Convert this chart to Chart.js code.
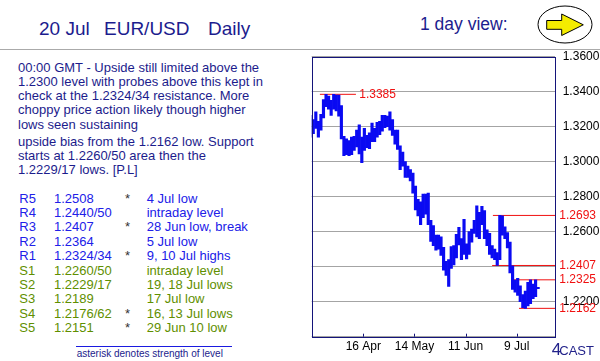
<!DOCTYPE html>
<html><head><meta charset="utf-8">
<script src="https://cdn.jsdelivr.net/npm/chart.js@4/dist/chart.umd.min.js"></script>
<style>
html,body{margin:0;padding:0;background:#fff;}
body{width:600px;height:361px;position:relative;overflow:hidden;font-family:"Liberation Sans",Arial,sans-serif;}
.t{position:absolute;white-space:pre;}
#c{position:absolute;left:300px;top:50px;}
</style></head><body>
<div class="t" style="left:39px;top:19px;font-size:19px;line-height:19px;color:#1c1c8e">20 Jul</div>
<div class="t" style="left:104px;top:19px;font-size:19px;line-height:19px;color:#1c1c8e">EUR/USD</div>
<div class="t" style="left:208px;top:19px;font-size:19px;line-height:19px;color:#1c1c8e">Daily</div>
<div class="t" style="left:420px;top:16.2px;font-size:17.5px;line-height:17.5px;color:#1c1c8e">1 day view:</div>
<svg style="position:absolute;left:530px;top:0" width="70" height="50">
  <ellipse cx="35" cy="24.5" rx="27" ry="18.5" fill="none" stroke="#000" stroke-width="1"/>
  <polygon points="16.7,20.5 31.7,20.5 31.7,14 53.3,24.8 31.7,35.5 31.7,29.3 16.7,29.3" fill="#f4ec00" stroke="#000" stroke-width="1"/>
</svg>
<div style="position:absolute;left:0;top:48.5px;width:600px;height:1px;background:#aaaaaa"></div>
<div class="t" style="left:18px;top:60.7px;font-size:13px;line-height:14.2px;color:#1c1c8c">00:00 GMT - Upside still limited above the
1.2300 level with probes above this kept in
check at the 1.2324/34 resistance. More
choppy price action likely though higher
lows seen sustaining</div>
<div class="t" style="left:18px;top:135.1px;font-size:13px;line-height:13.8px;color:#1c1c8c">upside bias from the 1.2162 low. Support
starts at 1.2260/50 area then the
1.2229/17 lows. [P.L]</div>
<div id="tbl"></div>
<div style="position:absolute;left:76px;top:346px;width:156px;height:1px;background:#1a1ae0"></div>
<div class="t" style="left:76.7px;top:348.8px;font-size:10px;line-height:10px;color:#1c1c8c">asterisk denotes strength of level</div>
<canvas id="c" width="300" height="311"></canvas>
<div class="t" style="left:551.7px;top:340.6px;font-size:17px;line-height:17px;color:#22228a">4</div>
<div class="t" style="left:559.3px;top:344px;font-size:13px;line-height:13px;color:#22228a">CAST</div>
<script>
// ---- key levels table ----
const levelNames = ['R5','R4','R3','R2','R1','S1','S2','S3','S4','S5'];
const levelValues = ['1.2508','1.2440/50','1.2407','1.2364','1.2324/34','1.2260/50','1.2229/17','1.2189','1.2176/62','1.2151'];
const levelStars = ['*','','*','','*','','','','*','*'];
const levelNotes = ['4 Jul low','intraday level','28 Jun low, break','5 Jul low','9, 10 Jul highs','intraday level','19, 18 Jul lows','17 Jul low','16, 13 Jul lows','29 Jun 10 low'];

// ---- price series (daily high/low) ----
const days = ['19 Mar','20 Mar','21 Mar','22 Mar','23 Mar','26 Mar','27 Mar','28 Mar','29 Mar','30 Mar',
 '2 Apr','3 Apr','4 Apr','5 Apr','6 Apr','9 Apr','10 Apr','11 Apr','12 Apr','13 Apr',
 '16 Apr','17 Apr','18 Apr','19 Apr','20 Apr','23 Apr','24 Apr','25 Apr','26 Apr','27 Apr',
 '30 Apr','1 May','2 May','3 May','4 May','7 May','8 May','9 May','10 May','11 May',
 '14 May','15 May','16 May','17 May','18 May','21 May','22 May','23 May','24 May','25 May',
 '28 May','29 May','30 May','31 May','1 Jun','4 Jun','5 Jun','6 Jun','7 Jun','8 Jun',
 '11 Jun','12 Jun','13 Jun','14 Jun','15 Jun','18 Jun','19 Jun','20 Jun','21 Jun','22 Jun',
 '25 Jun','26 Jun','27 Jun','28 Jun','29 Jun','2 Jul','3 Jul','4 Jul','5 Jul','6 Jul',
 '9 Jul','10 Jul','11 Jul','12 Jul','13 Jul','16 Jul','17 Jul','18 Jul','19 Jul','20 Jul'];
const highs = [1.3265,1.3240,1.3285,1.3230,1.3270,1.3355,1.3385,1.3375,1.3350,1.3385,
 1.3380,1.3380,1.3320,1.3145,1.3130,1.3120,1.3140,1.3145,1.3180,1.3210,
 1.3140,1.3190,1.3150,1.3165,1.3220,1.3190,1.3225,1.3230,1.3265,1.3265,
 1.3260,1.3285,1.3240,1.3180,1.3180,1.3090,1.3055,1.3000,1.2975,1.2955,
 1.2935,1.2860,1.2785,1.2770,1.2815,1.2815,1.2820,1.2665,1.2635,1.2580,
 1.2580,1.2570,1.2510,1.2430,1.2440,1.2515,1.2520,1.2585,1.2625,1.2560,
 1.2670,1.2530,1.2600,1.2615,1.2665,1.2748,1.2710,1.2745,1.2720,1.2610,
 1.2590,1.2520,1.2500,1.2480,1.2693,1.2690,1.2628,1.2595,1.2540,1.2405,
 1.2324,1.2334,1.2290,1.2240,1.2260,1.2310,1.2325,1.2300,1.2325,1.2282];
const lows = [1.3140,1.3160,1.3190,1.3140,1.3180,1.3250,1.3315,1.3300,1.3265,1.3300,
 1.3290,1.3260,1.3130,1.3035,1.3040,1.3035,1.3040,1.3065,1.3085,1.3045,
 1.2995,1.3065,1.3080,1.3075,1.3115,1.3115,1.3140,1.3155,1.3175,1.3195,
 1.3200,1.3180,1.3150,1.3100,1.3070,1.2955,1.2975,1.2910,1.2910,1.2890,
 1.2820,1.2725,1.2690,1.2640,1.2680,1.2700,1.2640,1.2545,1.2520,1.2495,
 1.2500,1.2465,1.2380,1.2350,1.2288,1.2390,1.2410,1.2450,1.2525,1.2440,
 1.2470,1.2445,1.2470,1.2540,1.2590,1.2570,1.2560,1.2640,1.2560,1.2520,
 1.2470,1.2450,1.2440,1.2407,1.2440,1.2580,1.2560,1.2508,1.2364,1.2270,
 1.2255,1.2236,1.2200,1.2166,1.2162,1.2176,1.2189,1.2217,1.2229,1.2274];

// ---- marked levels on the chart ----
const levels = [1.3385, 1.2693, 1.2407, 1.2325, 1.2162];
const levelFrom = [3.6, 71.3, 71.0, 79.2, 81.5];   // day index where each line starts
const levelTo = [17.7, null, null, null, null];    // null = to the right edge

// ---- axes ----
const tickDays = ['16 Apr','14 May','11 Jun','9 Jul'];
const yTicks = [1.20,1.22,1.24,1.26,1.28,1.30,1.32,1.34,1.36];
const X_MIN = 0.39, X_MAX = 95.6, TICK_SHIFT = 0.6;

// build table
const tbl = document.getElementById('tbl');
levelNames.forEach((n,i)=>{
  const top = 191.6 + i*14.38;
  const col = n[0]==='R' ? '#2020e8' : '#5f8f00';
  const mk = (txt,left,c)=>{const d=document.createElement('div');d.className='t';d.textContent=txt;
    d.style.cssText=`left:${left}px;top:${top}px;font-size:13px;line-height:14.38px;color:${c}`;tbl.appendChild(d);};
  mk(n,19.3,col); mk(levelValues[i],54,col); if(levelStars[i]) mk(levelStars[i],125,'#333'); mk(levelNotes[i],146.7,col);
});

const barData = days.map((d,i)=>({x:i, y:[lows[i], highs[i]]}));
const lineSets = levels.map((v,i)=>({
  type:'line', data:[{x:levelFrom[i],y:v},{x:levelTo[i]==null?X_MAX:levelTo[i],y:v}],
  borderColor:'#f01010', borderWidth:1, pointRadius:0, fill:false
}));
const rightLevels = levels.filter((v,i)=>levelTo[i]==null);

const overlay = {
  id:'overlay',
  afterDatasetsDraw(chart){
    const {ctx, chartArea:a, scales:{x,y}} = chart;
    ctx.save();
    ctx.strokeStyle='#14147a'; ctx.lineWidth=1;
    ctx.strokeRect(Math.round(a.left)+0.5, Math.round(a.top)+0.5, Math.round(a.right-a.left), Math.round(a.bottom-a.top));
    ctx.beginPath();
    tickDays.forEach(d=>{const px=Math.round(x.getPixelForValue(days.indexOf(d)+TICK_SHIFT))+0.5;
      ctx.moveTo(px,a.bottom); ctx.lineTo(px,a.bottom-3);});
    ctx.stroke();
    ctx.font='12px "Liberation Sans", Arial, sans-serif'; ctx.fillStyle='#f01010'; ctx.textBaseline='middle'; ctx.textAlign='left';
    levels.forEach((v,i)=>{
      const py=y.getPixelForValue(v);
      const px = levelTo[i]!=null ? x.getPixelForValue(levelTo[i])+3.3 : a.right+4.3;
      ctx.fillText(v.toFixed(4), px, py);
    });
    ctx.restore();
  }
};

new Chart(document.getElementById('c'), {
  type:'bar',
  data:{datasets:[{data:barData, backgroundColor:'#0a0af2', borderWidth:0, barThickness:2.5, borderSkipped:false}, ...lineSets]},
  options:{
    responsive:false, animation:false, devicePixelRatio:1,
    layout:{padding:{left:11.7, top:6.7, right:0, bottom:0}},
    plugins:{legend:{display:false}, tooltip:{enabled:false}},
    scales:{
      x:{type:'linear', min:X_MIN, max:X_MAX, offset:false,
        grid:{display:false, drawTicks:false}, border:{display:false},
        afterBuildTicks:s=>{s.ticks=tickDays.map(d=>({value:days.indexOf(d)+TICK_SHIFT}));},
        afterFit:s=>{s.height=24.3; s.paddingLeft=0; s.paddingRight=0; s.paddingTop=0; s.paddingBottom=0;},
        ticks:{autoSkip:false, maxRotation:0, padding:3, color:'#000', font:{size:12, family:'"Liberation Sans", Arial'},
          callback:(v,i)=>tickDays[i]}},
      y:{position:'right', min:1.20, max:1.36,
        afterBuildTicks:s=>{s.ticks=yTicks.map(v=>({value:v}));},
        afterFit:s=>{s.width=45; s.paddingTop=0; s.paddingBottom=0; s.paddingLeft=0; s.paddingRight=0;},
        grid:{color:'#a4a4a4', lineWidth:1, drawTicks:false}, border:{display:false},
        ticks:{padding:7.7, color:'#000', font:{size:12, family:'"Liberation Sans", Arial'},
          callback:v=> (v<=1.2001 || rightLevels.some(l=>Math.abs(l-v)<0.002)) ? '' : v.toFixed(4)}}
    }
  },
  plugins:[overlay]
});
</script>
</body></html>
